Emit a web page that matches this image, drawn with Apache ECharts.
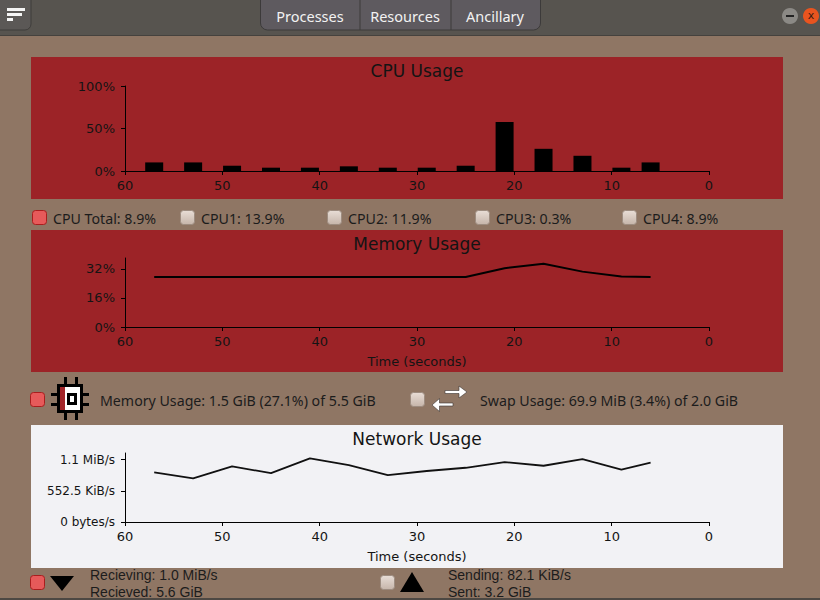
<!DOCTYPE html>
<html>
<head>
<meta charset="utf-8">
<script src="https://cdn.jsdelivr.net/npm/echarts@6/dist/echarts.min.js"></script>
<style>
html,body{margin:0;padding:0;background:#8f7664;}
#chart{width:820px;height:600px;}
</style>
</head>
<body>
<div id="chart"></div>
<script>
// ---- data ----
const seconds = [57, 53, 49, 45, 41, 37, 33, 29, 25, 21, 17, 13, 9, 6];
const cpuTotal = [10.1, 10.1, 6.2, 3.9, 3.9, 5.5, 3.9, 3.9, 6.2, 57.7, 26.1, 17.9, 3.9, 10.1];
const memPct = [27.5, 27.5, 27.5, 27.5, 27.5, 27.5, 27.5, 27.5, 27.5, 32.4, 34.8, 30.5, 27.8, 27.6];
const netKiB = [879, 772, 986, 867, 1128, 1009, 831, 905, 962, 1062, 998, 1116, 927, 1052];
const timeTicks = [0, 10, 20, 30, 40, 50, 60];
const cpuTicks = [0, 50, 100];
const cpuTickLabels = ['0%', '50%', '100%'];
const memTicks = [0, 16, 32];
const memTickLabels = ['0%', '16%', '32%'];
const netTicks = [0, 552.5, 1105];
const netTickLabels = ['0 bytes/s', '552.5 KiB/s', '1.1 MiB/s'];
const tabs = ['Processes', 'Resources', 'Ancillary'];
const cpuLegend = ['CPU Total: 8.9%', 'CPU1: 13.9%', 'CPU2: 11.9%', 'CPU3: 0.3%', 'CPU4: 8.9%'];
const memLegend = 'Memory Usage: 1.5 GiB (27.1%) of 5.5 GiB';
const swapLegend = 'Swap Usage: 69.9 MiB (3.4%) of 2.0 GiB';
const recvLines = ['Recieving: 1.0 MiB/s', 'Recieved: 5.6 GiB'];
const sendLines = ['Sending: 82.1 KiB/s', 'Sent: 3.2 GiB'];

// ---- styles ----
const BROWN = '#8f7664', RED = '#9c2327', NETBG = '#f2f2f5', BAR = '#57544f';
const chartFont = 'DejaVu Sans';
const uiFont = 'Noto Sans';
const compactFont = 'Liberation Sans';
const ink = '#141414';
const uiSize = 14.2;

function txt(text, x, y, size, family, color, align) {
  return {type: 'text', x: x, y: y, silent: true,
    style: {text: text, font: size + 'px "' + family + '"', fill: color,
      align: align || 'left', verticalAlign: 'middle',
      textAlign: align || 'left', textVerticalAlign: 'middle'}};
}
function rect(x, y, w, h, fill, extra) {
  return Object.assign({type: 'rect', silent: true, shape: {x: x, y: y, width: w, height: h},
    style: {fill: fill}}, extra || {});
}
function checkbox(x, y, on) {
  return {type: 'rect', silent: true, shape: {x: x + 0.5, y: y + 0.5, width: 14, height: 14, r: 3},
    style: on ? {fill: '#e65a5a', stroke: '#a81e1e', lineWidth: 1}
              : {fill: new echarts.graphic.LinearGradient(0, 0, 0, 1, [{offset: 0, color: '#e8ddd6'}, {offset: 1, color: '#c6b5aa'}]),
                 stroke: '#9d8c80', lineWidth: 1}};
}

const graphics = [];
// window background + title bar
graphics.push(rect(0, 0, 820, 600, BROWN));
graphics.push(rect(0, 0, 820, 36, BAR));
graphics.push(rect(0, 35, 820, 1, '#45423e'));
graphics.push(rect(0, 598, 820, 2, '#4d4843'));
// menu button
graphics.push({type: 'rect', silent: true, shape: {x: -4, y: -4, width: 35, height: 34, r: [0, 0, 6, 0]},
  style: {fill: '#5b5856', stroke: '#3f3d3b', lineWidth: 1}});
graphics.push(rect(7, 8, 18, 3, '#f4f4f4'));
graphics.push(rect(7, 13, 15, 3, '#f4f4f4'));
graphics.push(rect(7, 18, 6, 3, '#f4f4f4'));
// tabs
graphics.push({type: 'rect', silent: true, shape: {x: 260.5, y: -4, width: 280, height: 34, r: [0, 0, 7, 7]},
  style: {fill: '#5e5a5f', stroke: '#3c3a3a', lineWidth: 1}});
graphics.push(rect(359.5, 0, 1, 30, '#3c3a3a'));
graphics.push(rect(450.5, 0, 1, 30, '#3c3a3a'));
const tabCenters = [310, 405, 495];
tabs.forEach((t, i) => graphics.push(txt(t, tabCenters[i], 16, 14.5, uiFont, '#f2f2f2', 'center')));
// window buttons
graphics.push({type: 'circle', silent: true, shape: {cx: 790, cy: 16, r: 8}, style: {fill: '#8b8985'}});
graphics.push(rect(786, 15, 8, 2, '#222'));
graphics.push({type: 'circle', silent: true, shape: {cx: 811, cy: 16, r: 8}, style: {fill: '#e9541f'}});
graphics.push(txt('x', 811, 15, 11, 'DejaVu Sans', '#3a1a10', 'center'));

// panels
graphics.push(rect(31, 57, 752, 142, RED));
graphics.push(rect(31, 230, 752, 142, RED));
graphics.push(rect(31, 425, 752, 143, NETBG));

// chart titles
graphics.push(txt('CPU Usage', 417, 71, 17, chartFont, ink, 'center'));
graphics.push(txt('Memory Usage', 417, 244, 17, chartFont, ink, 'center'));
graphics.push(txt('Network Usage', 417, 439, 17, chartFont, ink, 'center'));

// CPU legend row
const cpuBoxX = [32, 180, 327, 475, 622];
cpuLegend.forEach((t, i) => {
  graphics.push(checkbox(cpuBoxX[i], 210, i === 0));
  graphics.push(txt(t, cpuBoxX[i] + 21, 218, uiSize, uiFont, '#1c1c1c'));
});

// memory row
graphics.push(checkbox(30, 392, true));
// chip icon
[[64, 377], [75, 377], [64, 413], [75, 413]].forEach(p => graphics.push(rect(p[0], p[1], 3, 7, '#000')));
[[51, 393], [51, 403], [83, 393], [83, 403]].forEach(p => graphics.push(rect(p[0], p[1], 6, 3, '#000')));
graphics.push(rect(57, 384, 26, 29, '#000'));
graphics.push(rect(60, 387, 20, 23, '#ffffff'));
graphics.push(rect(60, 387, 5, 23, '#a3262a'));
graphics.push(rect(67, 393, 10, 12, '#000'));
graphics.push(rect(70, 396, 4, 6, '#ffffff'));
graphics.push(txt(memLegend, 100, 400, uiSize, uiFont, '#1c1c1c'));
// swap row
graphics.push(checkbox(410, 392, false));
graphics.push({type: 'polygon', silent: true,
  shape: {points: [[445, 390.5], [459, 390.5], [459, 386], [467, 392], [459, 398], [459, 393.5], [445, 393.5]]},
  style: {fill: '#fff', stroke: '#3a3430', lineWidth: 0.6}});
graphics.push({type: 'polygon', silent: true,
  shape: {points: [[453, 403], [439.5, 403], [439.5, 398.5], [432, 405], [439.5, 411.5], [439.5, 406], [453, 406]]},
  style: {fill: '#fff', stroke: '#3a3430', lineWidth: 0.6}});
graphics.push(txt(swapLegend, 480, 400, uiSize, uiFont, '#1c1c1c'));

// network row
graphics.push(checkbox(30, 575, true));
graphics.push({type: 'polygon', silent: true, shape: {points: [[50, 576], [74, 576], [62, 591]]}, style: {fill: '#000'}});
graphics.push(txt(recvLines[0], 90, 575, 14, compactFont, '#1c1c1c'));
graphics.push(txt(recvLines[1], 90, 591.5, 14, compactFont, '#1c1c1c'));
graphics.push(checkbox(380, 575, false));
graphics.push({type: 'polygon', silent: true, shape: {points: [[412, 572], [424, 592], [400, 592]]}, style: {fill: '#000'}});
graphics.push(txt(sendLines[0], 448, 575, 14, compactFont, '#1c1c1c'));
graphics.push(txt(sendLines[1], 448, 591.5, 14, compactFont, '#1c1c1c'));

// ---- axes ----
const gridDefs = [
  {left: 125, width: 584, top: 86, height: 85},
  {left: 125, width: 584, top: 258, height: 69},
  {left: 125, width: 584, top: 453, height: 69}
];
const grids = gridDefs.map(g => Object.assign({show: true, borderColor: '#000', borderWidth: 1,
  backgroundColor: 'transparent', containLabel: false}, g));

function xAx(i, withName) {
  return {type: 'value', gridIndex: i, min: 0, max: 60, interval: 10, inverse: true,
    axisLine: {show: true, onZero: false, lineStyle: {color: '#000', width: 1}},
    axisTick: {show: true, length: 4, lineStyle: {color: '#000'}},
    axisLabel: {color: ink, fontFamily: chartFont, fontSize: 13, margin: 8,
      customValues: timeTicks},
    splitLine: {show: false},
    name: withName ? 'Time (seconds)' : '', nameLocation: 'middle', nameGap: 28,
    nameTextStyle: {color: ink, fontFamily: chartFont, fontSize: 13}};
}
function yAx(i, max, ticks, labels, size) {
  return {type: 'value', gridIndex: i, min: 0, max: max,
    axisLine: {show: true, onZero: false, lineStyle: {color: '#000', width: 1}},
    axisTick: {show: true, length: 4, lineStyle: {color: '#000'}, customValues: ticks},
    axisLabel: {color: ink, fontFamily: chartFont, fontSize: size, margin: 10, customValues: ticks,
      formatter: v => { const k = ticks.findIndex(t => Math.abs(t - v) < 1e-6); return k >= 0 ? labels[k] : ''; }},
    splitLine: {show: false}};
}

const option = {
  animation: false,
  graphic: {elements: graphics},
  grid: grids,
  xAxis: [xAx(0, false), xAx(1, true), xAx(2, true)],
  yAxis: [
    yAx(0, 100, cpuTicks, cpuTickLabels, 13),
    yAx(1, 38, memTicks, memTickLabels, 13),
    yAx(2, 1224, netTicks, netTickLabels, 12)
  ],
  series: [
    {type: 'bar', xAxisIndex: 0, yAxisIndex: 0, barWidth: 18, silent: true,
      itemStyle: {color: '#000'}, data: seconds.map((s, i) => [s, cpuTotal[i]])},
    {type: 'line', xAxisIndex: 1, yAxisIndex: 1, showSymbol: false, silent: true,
      lineStyle: {color: '#000', width: 2}, data: seconds.map((s, i) => [s, memPct[i]])},
    {type: 'line', xAxisIndex: 2, yAxisIndex: 2, showSymbol: false, silent: true,
      lineStyle: {color: '#111', width: 1.8}, data: seconds.map((s, i) => [s, netKiB[i]])}
  ]
};
const chart = echarts.init(document.getElementById('chart'), null, {renderer: 'svg'});
chart.setOption(option);
</script>
</body>
</html>
